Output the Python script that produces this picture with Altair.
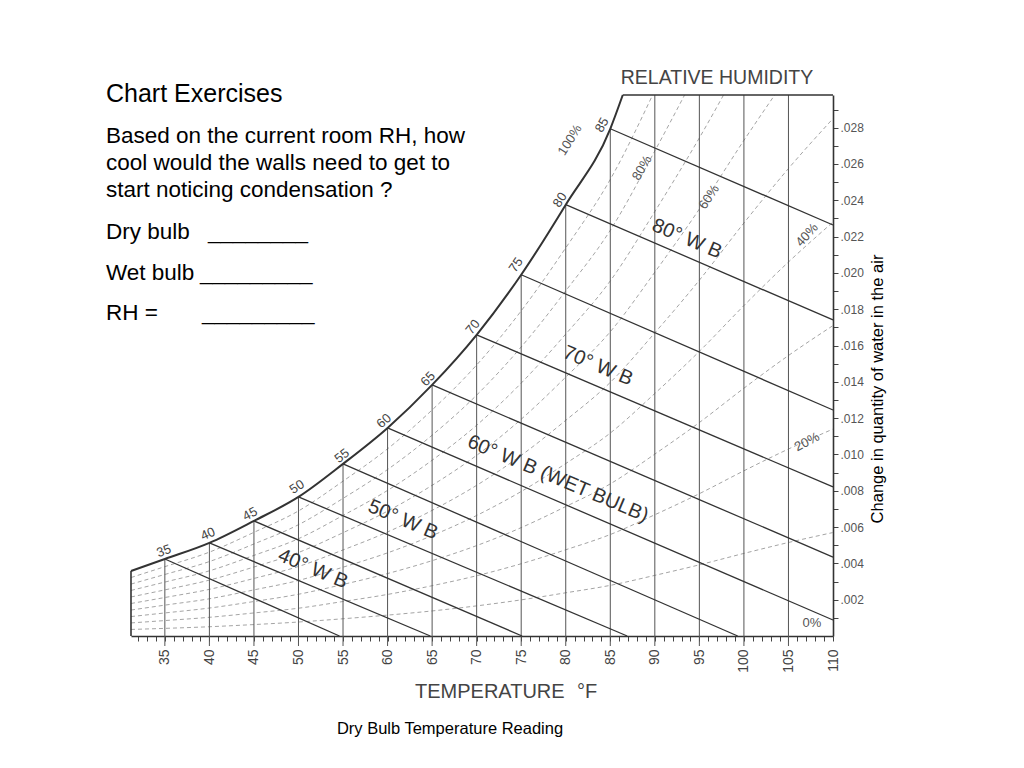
import altair as alt
import pandas as pd

# ---------------- data ----------------
# saturation (100 %) curve: dry-bulb temperature (F) and humidity ratio
sat_T = [31.2, 35, 40, 45, 50, 55, 60, 65, 70, 75, 80, 85, 86.4]
sat_W = [0.00358, 0.00424, 0.00513, 0.00634, 0.00766, 0.00948, 0.01146,
         0.01383, 0.01659, 0.0199, 0.02376, 0.02794, 0.0298]

# wet-bulb lines: start on the saturation curve, end on bottom / right edge
wb_T = [35, 40, 45, 50, 55, 60, 65, 70, 75, 80, 85]
wb_W = [0.00424, 0.00513, 0.00634, 0.00766, 0.00948, 0.01146, 0.01383,
        0.01659, 0.0199, 0.02376, 0.02794]
wb_end_T = [54.6, 64.8, 75.1, 86.9, 99.3, 110, 110, 110, 110, 110, 110]
wb_end_W = [0, 0, 0, 0, 0, 0.00088, 0.00435, 0.00821, 0.01245, 0.01741, 0.02264]

# dry-bulb vertical lines and where they stop
db_T = [35, 40, 45, 50, 55, 60, 65, 70, 75, 80, 85, 90, 95, 100, 105]
db_top_W = [0.00424, 0.00513, 0.00634, 0.00766, 0.00948, 0.01146, 0.01383,
            0.01659, 0.0199, 0.02376, 0.02794, 0.0298, 0.0298, 0.0298, 0.0298]

# relative-humidity curves (dashed)
rh_T = [31.2, 35, 40, 45, 50, 55, 60, 65, 70, 75, 80, 85, 90, 95, 100, 105, 110]
rh10_W = [0.00036, 0.00042, 0.00051, 0.00063, 0.00077, 0.00095, 0.00115, 0.00138, 0.00166,
          0.00199, 0.00238, 0.00279, 0.00334, 0.00392, 0.00455, 0.00515, 0.0057]
rh20_W = [0.00072, 0.00085, 0.00103, 0.00127, 0.00153, 0.0019, 0.00229, 0.00277, 0.00332,
          0.00398, 0.00475, 0.00559, 0.00668, 0.00784, 0.0091, 0.0103, 0.0114]
rh30_W = [0.00107, 0.00127, 0.00154, 0.0019, 0.0023, 0.00284, 0.00344, 0.00415, 0.00498,
          0.00597, 0.00713, 0.00838, 0.01002, 0.01176, 0.01365, 0.01545, 0.0171]
rh40_W = [0.00143, 0.0017, 0.00205, 0.00254, 0.00306, 0.00379, 0.00458, 0.00553, 0.00664,
          0.00796, 0.0095, 0.01118, 0.01336, 0.01568, 0.0182, 0.0206, 0.0228]
rh50_W = [0.00179, 0.00212, 0.00257, 0.00317, 0.00383, 0.00474, 0.00573, 0.00692, 0.0083,
          0.00995, 0.01188, 0.01397, 0.0167, 0.0196, 0.02275, 0.02575, 0.0285]
rh60_W = [0.00215, 0.00254, 0.00308, 0.0038, 0.0046, 0.00569, 0.00688, 0.0083, 0.00995,
          0.01194, 0.01426, 0.01676, 0.02004, 0.02352, 0.0273, 0.0309]
rh70_W = [0.00251, 0.00297, 0.00359, 0.00444, 0.00536, 0.00664, 0.00802, 0.00968, 0.01161,
          0.01393, 0.01663, 0.01956, 0.02338, 0.02744, 0.03185]
rh80_W = [0.00286, 0.00339, 0.0041, 0.00507, 0.00613, 0.00758, 0.00917, 0.01106, 0.01327,
          0.01592, 0.01901, 0.02235, 0.02672, 0.03136]
rh90_W = [0.00322, 0.00382, 0.00462, 0.00571, 0.00689, 0.00853, 0.01031, 0.01245, 0.01493,
          0.01791, 0.02138, 0.02515, 0.03006]

# labels on the chart
wb_label_text = ["80° W B", "70° W B", "60° W B (WET BULB)", "50° W B", "40° W B"]
wb_label_T = [92.94, 82.95, 78.46, 61.06, 50.96]
wb_label_W = [0.02154, 0.01454, 0.00832, 0.00606, 0.00336]

rh_label_text = ["100%", "80%", "60%", "40%", "20%", "0%"]
rh_label_T = [80.48, 88.56, 96.08, 107.08, 107.08, 107.64]
rh_label_W = [0.02732, 0.02578, 0.02418, 0.02209, 0.01069, 0.00072]
rh_label_angle = [302, 300, 303, 312, 332, 0]

dp_text = ["35", "40", "45", "50", "55", "60", "65", "70", "75", "80", "85"]
dp_T = [34.9, 39.84, 44.56, 49.83, 54.88, 59.6, 64.54, 69.59, 74.42, 79.36, 84.07]
dp_W = [0.00468, 0.00562, 0.00672, 0.00821, 0.00992, 0.01184, 0.01416, 0.01702,
        0.02044, 0.02402, 0.02815]
dp_angle = [340, 336, 332, 327, 322, 318, 313, 309, 305, 302, 299]

x_tick_values = list(range(32, 111))
y_tick_values = [round(0.001 * i, 3) for i in range(1, 30)]

# ---------------- tables ----------------
sat_df = pd.DataFrame({"T": sat_T, "W": sat_W})
wb_df = pd.DataFrame({"T": wb_T, "W": wb_W, "T2": wb_end_T, "W2": wb_end_W})
db_df = pd.DataFrame({"T": db_T, "W": db_top_W})
rows = []
for rh, ws in [(10, rh10_W), (20, rh20_W), (30, rh30_W), (40, rh40_W), (50, rh50_W),
               (60, rh60_W), (70, rh70_W), (80, rh80_W), (90, rh90_W)]:
    for t, w in zip(rh_T, ws):
        rows.append({"T": t, "W": w, "rh": rh})
rh_df = pd.DataFrame(rows)
wbl_df = pd.DataFrame({"T": wb_label_T, "W": wb_label_W, "t": wb_label_text})
rhl_df = pd.DataFrame({"T": rh_label_T, "W": rh_label_W, "t": rh_label_text, "a": rh_label_angle})
dpl_df = pd.DataFrame({"T": dp_T, "W": dp_W, "t": dp_text, "a": dp_angle})
edge_df = pd.DataFrame({"T": [sat_T[0]], "W": [0.0], "W2": [sat_W[0]]})
top_df = pd.DataFrame({"T": [sat_T[-1]], "T2": [110.0], "W": [sat_W[-1]]})

# ---------------- scales & axes ----------------
FONT = "Liberation Sans"
INK = "#333333"
xscale = alt.Scale(domain=[31.2, 110], nice=False, zero=False)
yscale = alt.Scale(domain=[0, 0.0298], nice=False, zero=False)
xaxis = alt.Axis(orient="bottom", values=x_tick_values, tickSize=5, tickColor="#444",
                 tickWidth=1, domainColor="#333", domainWidth=1.6, grid=False, title=None,
                 labelExpr="datum.value % 5 == 0 ? datum.label : ''", labelAngle=270,
                 labelFont=FONT, labelFontSize=14, labelColor="#444", labelPadding=8,
                 labelOverlap=False, labelFlush=False, labelBound=False)
yaxis = alt.Axis(orient="right", values=y_tick_values, tickSize=5, tickColor="#444",
                 tickWidth=1, domainColor="#333", domainWidth=1.6, grid=False, title=None,
                 labelExpr="round(datum.value * 1000) % 2 == 0 ? '.' + substring(format(datum.value, '.3f'), 2) : ''",
                 labelFont=FONT, labelFontSize=12, labelColor="#555", labelPadding=2,
                 labelOverlap=False, labelFlush=False, labelBound=False)


def X(f="T"):
    return alt.X(f"{f}:Q", scale=xscale, axis=xaxis, title=None)


def Y(f="W"):
    return alt.Y(f"{f}:Q", scale=yscale, axis=yaxis, title=None)


rh_lines = alt.Chart(rh_df).mark_line(
    color="#9a9a9a", strokeWidth=0.9, strokeDash=[4, 3], interpolate="monotone", clip=True
).encode(x=X(), y=Y(), detail="rh:N", order="T:Q")

db_lines = alt.Chart(db_df).mark_rule(color="#555", strokeWidth=1).encode(
    x=X(), y=Y(), y2=alt.value(551))

wb_lines = alt.Chart(wb_df).mark_rule(color=INK, strokeWidth=1.3).encode(
    x=X(), y=Y(), x2=alt.X2("T2:Q"), y2=alt.Y2("W2:Q"))

sat_line = alt.Chart(sat_df).mark_line(color="#333", strokeWidth=2, interpolate="monotone").encode(
    x=X(), y=Y(), order="T:Q")

edge_line = alt.Chart(edge_df).mark_rule(color="#333", strokeWidth=1.6).encode(
    x=X(), y=Y(), y2=alt.Y2("W2:Q"))
top_line = alt.Chart(top_df).mark_rule(color="#333", strokeWidth=1.6).encode(
    x=X(), x2=alt.X2("T2:Q"), y=Y())

wb_labels = alt.Chart(wbl_df).mark_text(
    font=FONT, fontSize=20, color=INK, angle=23, align="center", baseline="middle",
    dx=3, dy=-8
).encode(x=X(), y=Y(), text="t:N")

rh_labels = alt.Chart(rhl_df).mark_text(
    font=FONT, fontSize=13, color="#555", align="center", baseline="middle"
).encode(x=X(), y=Y(), text="t:N", angle=alt.Angle("a:Q", scale=None))

dp_labels = alt.Chart(dpl_df).mark_text(
    font=FONT, fontSize=13, color="#444", align="center", baseline="middle"
).encode(x=X(), y=Y(), text="t:N", angle=alt.Angle("a:Q", scale=None))


def note(txt, x, y, size, color="#000", align="left", baseline="alphabetic", angle=0):
    kw = dict(font=FONT, fontSize=size, color=color, align=align, baseline=baseline)
    if angle:
        kw["angle"] = angle
    return alt.Chart(pd.DataFrame({"t": [txt]})).mark_text(**kw).encode(
        text="t:N", x=alt.value(x), y=alt.value(y))


notes = [
    note("Chart Exercises", -25, 6.7, 25),
    note("Based on the current room RH, how", -25, 48.3, 22.5),
    note("cool would the walls need to get to", -25, 75, 22.5),
    note("start noticing condensation ?", -25, 102.3, 22.5),
    note("Dry bulb", -25, 144, 22.5),
    note("________", 77, 144, 22.5),
    note("Wet bulb", -25, 185, 22.5),
    note("_________", 69, 185, 22.5),
    note("RH =", -25, 225, 22.5),
    note("_________", 71, 225, 22.5),
    note("RELATIVE HUMIDITY", 586, -11, 19.5, color="#444", align="center"),
    note("TEMPERATURE", 284, 603, 20, color="#444"),
    note("°F", 446, 603, 20, color="#444"),
    note("Dry Bulb Temperature Reading", 319, 639, 16.5, align="center"),
    note("Change in quantity of water in the air", 747, 294, 16.5, align="center",
         baseline="middle", angle=270),
]

chart = alt.layer(
    rh_lines, db_lines, wb_lines, sat_line, edge_line, top_line,
    wb_labels, rh_labels, dp_labels, *notes
).properties(
    width=702, height=541,
    autosize=alt.AutoSizeParams(type="none"),
    padding={"left": 123, "top": 87, "right": 183, "bottom": 124},
    background="white",
).configure_view(stroke=None)

chart.save("out.html", embed_options={"renderer": "svg", "actions": False})
